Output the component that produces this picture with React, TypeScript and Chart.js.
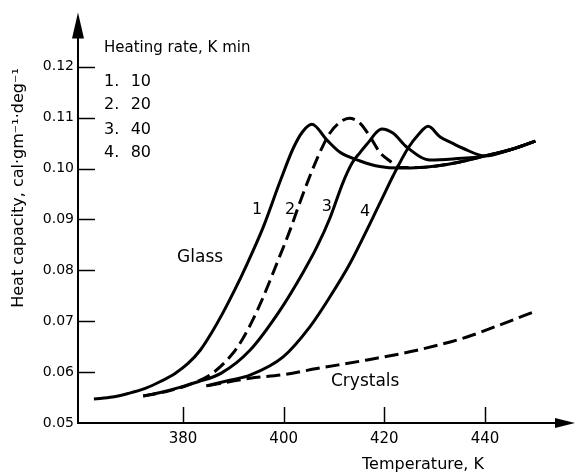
import React, { useEffect, useRef } from "react";
import { Chart, registerables } from "chart.js";

Chart.register(...registerables);

// ---- tick labels ----
const temperatureTicks = [380, 400, 420, 440];
const capacityTicks = [0.05, 0.06, 0.07, 0.08, 0.09, 0.1, 0.11, 0.12];

// ---- heating rate legend ----
const rateNumbers = ["1.", "2.", "3.", "4."];
const rateValues = ["10", "20", "40", "80"];

// ---- curve 1: 10 K/min ----
const rate10T = [362.3, 366, 369.1, 372.5, 375.6, 378.5, 381.0, 383.5, 385.6, 387.9, 390.3, 392.7, 395.9, 399.3, 401.9, 403.8, 405.6, 408.6, 411.2, 415.2, 419.1, 423, 427, 431, 435, 440, 445, 450];
const rate10C = [0.0547, 0.0551, 0.0558, 0.0568, 0.0582, 0.0598, 0.0617, 0.0644, 0.0676, 0.0716, 0.0762, 0.0812, 0.0884, 0.0975, 0.104, 0.1073, 0.1087, 0.1056, 0.1032, 0.1015, 0.1004, 0.1001, 0.1002, 0.1006, 0.1013, 0.1025, 0.1037, 0.1054];

// ---- curve 2: 20 K/min (dashed) ----
const rate20T = [372.1, 375.5, 379.0, 381.6, 385.6, 389.5, 391.9, 395.3, 398.7, 401.3, 403.2, 405.2, 407.2, 409.2, 411.2, 413.0, 415.2, 417.2, 419.1, 421.1, 423, 427, 431, 435, 440, 445, 450];
const rate20C = [0.0553, 0.0559, 0.0568, 0.0577, 0.0596, 0.0632, 0.0666, 0.0733, 0.0815, 0.088, 0.0933, 0.0985, 0.1032, 0.107, 0.1091, 0.1099, 0.1089, 0.1062, 0.1032, 0.1015, 0.1002, 0.1002, 0.1006, 0.1013, 0.1025, 0.1037, 0.1054];

// ---- curve 3: 40 K/min ----
const rate40T = [372.1, 375.5, 379.0, 383, 387.6, 393.3, 399.3, 403.8, 406.6, 409.2, 411.8, 413.6, 415.2, 417.2, 418.3, 419.5, 421.7, 424.5, 429.1, 433.6, 440, 445, 450];
const rate40C = [0.0553, 0.056, 0.0569, 0.0581, 0.0598, 0.0643, 0.0722, 0.0795, 0.0846, 0.0903, 0.0973, 0.1011, 0.1032, 0.1056, 0.107, 0.1078, 0.107, 0.1042, 0.1017, 0.1019, 0.1025, 0.1037, 0.1054];

// ---- curve 4: 80 K/min ----
const rate80T = [384.6, 389.3, 393.3, 399.9, 405.2, 409.2, 413.2, 417.2, 419.5, 421.7, 424.7, 426.7, 428.7, 431.1, 433.5, 435.6, 440, 445, 450];
const rate80C = [0.0573, 0.0584, 0.0594, 0.063, 0.0689, 0.0748, 0.0814, 0.0893, 0.094, 0.0985, 0.104, 0.1066, 0.1083, 0.1062, 0.105, 0.104, 0.1025, 0.1037, 0.1054];

// ---- crystals (dashed) ----
const crystalT = [384.8, 393.3, 399.9, 406.6, 416.6, 426.5, 436.4, 443.0, 450.1];
const crystalC = [0.0573, 0.0588, 0.0595, 0.0607, 0.0624, 0.0643, 0.0669, 0.0693, 0.072];

const FONT = "'DejaVu Sans', sans-serif";

const pts = (t: number[], c: number[]) => t.map((v, i) => ({ x: v, y: c[i] }));

const decorPlugin = {
  id: "decor",
  afterDraw(chart: any) {
    const { ctx, chartArea: a } = chart;
    const xs = chart.scales.x;
    const ys = chart.scales.y;
    ctx.save();
    ctx.strokeStyle = "#000";
    ctx.fillStyle = "#000";
    ctx.lineWidth = 2;
    // y axis + arrow
    ctx.beginPath();
    ctx.moveTo(a.left, a.bottom + 1);
    ctx.lineTo(a.left, a.top + 24);
    ctx.stroke();
    ctx.beginPath();
    ctx.moveTo(a.left, a.top);
    ctx.lineTo(a.left - 6, a.top + 26);
    ctx.lineTo(a.left + 6, a.top + 26);
    ctx.closePath();
    ctx.fill();
    // x axis + arrow
    ctx.beginPath();
    ctx.moveTo(a.left - 1, a.bottom);
    ctx.lineTo(558, a.bottom);
    ctx.stroke();
    ctx.beginPath();
    ctx.moveTo(575, a.bottom);
    ctx.lineTo(555, a.bottom - 5);
    ctx.lineTo(555, a.bottom + 5);
    ctx.closePath();
    ctx.fill();
    // inward tick marks
    ctx.lineWidth = 1.5;
    capacityTicks.forEach((v) => {
      if (v <= 0.05) return;
      const py = Math.round(ys.getPixelForValue(v)) + 0.5;
      ctx.beginPath();
      ctx.moveTo(a.left, py);
      ctx.lineTo(a.left + 17, py);
      ctx.stroke();
    });
    temperatureTicks.forEach((v) => {
      const px = Math.round(xs.getPixelForValue(v)) + 0.5;
      ctx.beginPath();
      ctx.moveTo(px, a.bottom);
      ctx.lineTo(px, a.bottom - 16);
      ctx.stroke();
    });

    // texts
    ctx.textBaseline = "middle";
    ctx.textAlign = "left";
    ctx.font = `15px ${FONT}`;
    ctx.fillText("Heating rate, K min", xs.getPixelForValue(364.3), ys.getPixelForValue(0.1237));
    ctx.font = `16px ${FONT}`;
    const legendC = [0.117, 0.1125, 0.1076, 0.103];
    rateNumbers.forEach((n, i) => {
      const py = ys.getPixelForValue(legendC[i]);
      ctx.fillText(n, xs.getPixelForValue(364.3), py);
      ctx.fillText(rateValues[i], xs.getPixelForValue(369.6), py);
    });
    ctx.textAlign = "center";
    const labelT = [394.7, 401.3, 408.6, 416.2];
    const labelC = [0.0918, 0.0918, 0.0924, 0.0915];
    ["1", "2", "3", "4"].forEach((s, i) => {
      ctx.fillText(s, xs.getPixelForValue(labelT[i]), ys.getPixelForValue(labelC[i]));
    });
    ctx.font = `17px ${FONT}`;
    ctx.fillText("Glass", xs.getPixelForValue(383.4), ys.getPixelForValue(0.0826));
    ctx.fillText("Crystals", xs.getPixelForValue(416.2), ys.getPixelForValue(0.0581));

    // axis titles
    ctx.font = `16px ${FONT}`;
    ctx.textAlign = "left";
    ctx.fillText("Temperature, K", 362, 465);
    ctx.save();
    ctx.translate(19, 188);
    ctx.rotate(-Math.PI / 2);
    ctx.textAlign = "center";
    ctx.fillText("Heat capacity, cal\u00B7gm\u207B\u00B9\u00B7deg\u207B\u00B9", 0, 0);
    ctx.restore();
    ctx.restore();
  },
};

export default function App() {
  const ref = useRef<HTMLCanvasElement | null>(null);
  useEffect(() => {
    if (!ref.current) return;
    const solid = { borderColor: "#000", borderWidth: 3, pointRadius: 0, fill: false, cubicInterpolationMode: "monotone" as const };
    const chart = new Chart(ref.current, {
      type: "line",
      data: {
        datasets: [
          { label: "10", data: pts(rate10T, rate10C), ...solid },
          { label: "20", data: pts(rate20T, rate20C), ...solid, borderDash: [13, 6] },
          { label: "40", data: pts(rate40T, rate40C), ...solid },
          { label: "80", data: pts(rate80T, rate80C), ...solid },
          { label: "Crystals", data: pts(crystalT, crystalC), ...solid, borderDash: [14, 6] },
        ],
      },
      options: {
        animation: false,
        responsive: true,
        maintainAspectRatio: false,
        layout: { padding: { left: 0, right: 15.5, top: 12, bottom: 0 } },
        plugins: { legend: { display: false }, tooltip: { enabled: false } },
        scales: {
          x: {
            type: "linear",
            min: 359.14,
            max: 455,
            grid: { display: false, drawTicks: false },
            border: { display: false },
            afterFit: (s: any) => { s.height = 52; },
            afterBuildTicks: (s: any) => { s.ticks = temperatureTicks.map((v) => ({ value: v })); },
            ticks: { color: "#000", font: { family: FONT, size: 15 }, padding: 7, maxRotation: 0, callback: (v: any) => String(v) },
          },
          y: {
            type: "linear",
            min: 0.05,
            max: 0.1307,
            grid: { display: false, drawTicks: false },
            border: { display: false },
            afterFit: (s: any) => { s.width = 78; },
            afterBuildTicks: (s: any) => { s.ticks = capacityTicks.map((v) => ({ value: v })); },
            ticks: { color: "#000", font: { family: FONT, size: 14 }, padding: 4, callback: (v: any) => Number(v).toFixed(2) },
          },
        },
      },
      plugins: [decorPlugin],
    });
    return () => chart.destroy();
  }, []);
  return (
    <div style={{ position: "absolute", left: 0, top: 0, width: 576, height: 475, background: "#fff" }}>
      <canvas ref={ref} />
    </div>
  );
}
